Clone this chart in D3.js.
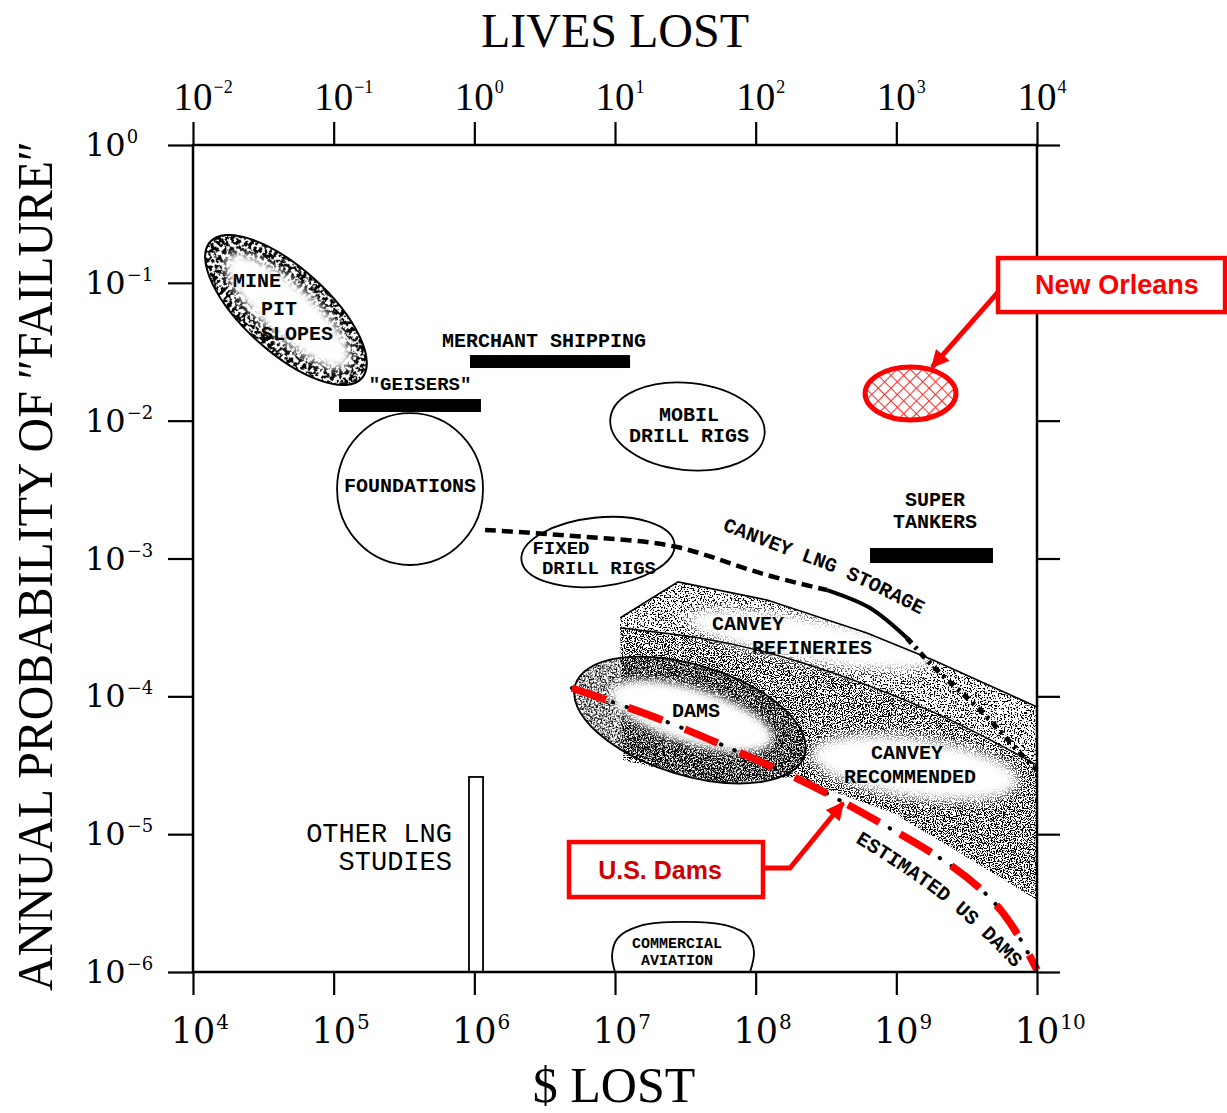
<!DOCTYPE html>
<html>
<head>
<meta charset="utf-8">
<title>Annual probability of failure versus consequences</title>
<script src="https://cdn.jsdelivr.net/npm/d3@7/dist/d3.min.js"></script>
<style>
  html, body { margin: 0; padding: 0; background: #fff; }
  svg { display: block; }
  .serif { font-family: "Liberation Serif", "Times New Roman", serif; }
  .dserif { font-family: "DejaVu Serif", "Liberation Serif", serif; }
  .type { font-family: "Liberation Mono", "Courier New", monospace; }
  .sans { font-family: "Liberation Sans", Arial, sans-serif; }
</style>
</head>
<body>
<svg id="chart" width="1227" height="1113"></svg>
<script>
// ---------------------------------------------------------------
// Axis decades
// ---------------------------------------------------------------
const dollarTicks = [1e4, 1e5, 1e6, 1e7, 1e8, 1e9, 1e10];
const dollarExps  = ["4", "5", "6", "7", "8", "9", "10"];
const livesTicks  = [1e-2, 1e-1, 1e0, 1e1, 1e2, 1e3, 1e4];
const livesExps   = ["\u22122", "\u22121", "0", "1", "2", "3", "4"];
const probTicks   = [1e0, 1e-1, 1e-2, 1e-3, 1e-4, 1e-5, 1e-6];
const probExps    = ["0", "\u22121", "\u22122", "\u22123", "\u22124", "\u22125", "\u22126"];

// ---------------------------------------------------------------
// Everything below is in [log10($ lost), log10(annual probability)]
// ---------------------------------------------------------------

// Solid horizontal bars: $ span and probability band
const barSpans = [
  { name: "geisers",  x: [5.038, 6.047], p: [-1.937, -1.843] },
  { name: "merchant", x: [5.969, 7.107], p: [-1.618, -1.524] },
  { name: "tankers",  x: [8.813, 9.687], p: [-3.033, -2.924] }
];

// Open column for the other LNG studies
const otherLngStudies = { x: [5.962, 6.062], p: [-6.0, -4.585] };

// Elliptical regions: centre, semi-axes in decades, tilt in degrees
const minePit     = { c: [4.661, -1.197], r: [0.725, 0.305], tilt: 42 };
const foundations = { c: [5.543, -2.496], r: [0.519, 0.551], tilt: 0 };
const mobilRigs   = { c: [7.515, -2.042], r: [0.551, 0.316], tilt: 6 };
const fixedRigs   = { c: [6.879, -2.953], r: [0.547, 0.250], tilt: -6 };
const damsRegion  = { c: [7.533, -4.172], r: [0.853, 0.400], tilt: 17 };
const newOrleans  = { c: [9.101, -1.803], r: [0.323, 0.192], tilt: 0 };

// Light (unshaded) cores inside the stippled regions
const clearCores = [
  { c: [4.675, -1.205], r: [0.575, 0.190], tilt: 42, blur: 4 },
  { c: [7.547, -4.143], r: [0.600, 0.200], tilt: 17, blur: 4 },
  { c: [8.386, -3.591], r: [0.890, 0.160], tilt: 10, blur: 6 },
  { c: [9.133, -4.519], r: [0.750, 0.220], tilt: 8,  blur: 6 }
];

// Canvey refineries band
const refineriesBand = [
  [7.036, -3.432], [7.448, -3.170], [8.081, -3.301], [8.791, -3.541],
  [9.261, -3.736], [10.0, -4.077], [10.0, -4.498], [9.261, -4.114],
  [8.315, -3.751], [7.604, -3.577], [7.036, -3.504]
];

// Canvey recommended band
const recommendedBand = [
  [7.036, -3.504], [7.604, -3.577], [8.315, -3.751], [9.261, -4.114],
  [10.0, -4.498], [10.0, -5.478], [9.453, -5.137], [8.976, -4.846],
  [8.265, -4.585], [7.746, -4.629], [7.057, -4.462]
];

// Commercial aviation outline
const aviationDome = [
  [7.000, -6.0], [6.979, -5.877], [7.021, -5.753], [7.178, -5.666],
  [7.483, -5.637], [7.803, -5.666], [7.945, -5.739], [7.988, -5.855], [7.960, -6.0]
];

// Canvey LNG storage curve, split where the line style changes
const lngDashed = [
  [6.076, -2.793], [6.417, -2.815], [6.893, -2.851], [7.441, -2.917],
  [7.960, -3.083], [8.507, -3.229]
];
const lngSolid = [[8.507, -3.229], [8.813, -3.359], [9.076, -3.577]];
const lngDotted = [
  [9.076, -3.577], [9.310, -3.831], [9.595, -4.099], [9.858, -4.389], [10.0, -4.534]
];

// Estimated US dams curve
const usDams = [
  [6.694, -3.940], [6.943, -4.027], [7.370, -4.186], [7.796, -4.368],
  [8.244, -4.571], [8.621, -4.767], [8.976, -4.970], [9.403, -5.238],
  [9.758, -5.572], [10.0, -5.986]
];

// Baselines for the labels that follow the curves
const lngLabelPath  = [[7.761, -2.793], [8.315, -3.011], [8.671, -3.156], [9.275, -3.461]];
const damsLabelPath = [[8.706, -5.057], [9.346, -5.499], [9.864, -5.999]];
const lngLabelWords  = ["CANVEY", "LNG", "STORAGE"];
const damsLabelWords = ["ESTIMATED", "US", "DAMS"];

// Region labels: text, anchor point, alignment, type style
const regionLabels = [
  { t: "MINE",       at: [4.455, -1.030], a: "middle", s: "b20" },
  { t: "PIT",        at: [4.611, -1.233], a: "middle", s: "b20" },
  { t: "SLOPES",     at: [4.739, -1.415], a: "middle", s: "b20" },
  { t: "\"GEISERS\"", at: [5.614, -1.778], a: "middle", s: "b19" },
  { t: "MERCHANT SHIPPING", at: [6.495, -1.466], a: "middle", s: "b20" },
  { t: "FOUNDATIONS", at: [5.543, -2.518], a: "middle", s: "b20" },
  { t: "MOBIL",      at: [7.526, -2.002], a: "middle", s: "b20" },
  { t: "DRILL RIGS", at: [7.526, -2.155], a: "middle", s: "b20" },
  { t: "FIXED",      at: [6.616, -2.965], a: "middle", s: "b19" },
  { t: "DRILL RIGS", at: [6.886, -3.112], a: "middle", s: "b19" },
  { t: "SUPER",      at: [9.275, -2.620], a: "middle", s: "b20" },
  { t: "TANKERS",    at: [9.275, -2.778], a: "middle", s: "b20" },
  { t: "CANVEY",     at: [7.945, -3.522], a: "middle", s: "b20" },
  { t: "REFINERIES", at: [8.400, -3.692], a: "middle", s: "b20" },
  { t: "DAMS",       at: [7.576, -4.150], a: "middle", s: "b20" },
  { t: "CANVEY",     at: [9.076, -4.455], a: "middle", s: "b20" },
  { t: "RECOMMENDED", at: [9.097, -4.626], a: "middle", s: "b20" },
  { t: "OTHER LNG",  at: [5.841, -5.057], a: "end",    s: "r27" },
  { t: "STUDIES",    at: [5.841, -5.260], a: "end",    s: "r27" },
  { t: "COMMERCIAL", at: [7.441, -5.826], a: "middle", s: "b15" },
  { t: "AVIATION",   at: [7.441, -5.949], a: "middle", s: "b15" }
];
const typeStyles = {
  b20: { size: 20, weight: "bold" },
  b19: { size: 19, weight: "bold" },
  r27: { size: 27, weight: "normal" },
  b15: { size: 15, weight: "bold" }
};

// Highlighted call-outs (text centre given on the $ axis)
const callouts = [
  { text: "New Orleans", box: [[9.723, -0.820], [11.337, -1.212]], textAt: 10.568,
    leader: [[9.723, -1.067], [9.254, -1.611]], color: "#ff0000", textColor: "#ff0000", size: 27 },
  { text: "U.S. Dams", box: [[6.673, -5.057], [8.052, -5.456]], textAt: 7.320,
    leader: [[8.052, -5.246], [8.244, -5.246], [8.621, -4.774]], color: "#ff0000", textColor: "#d00000", size: 25 }
];

// ---------------------------------------------------------------
// Scales
// ---------------------------------------------------------------
const svg = d3.select("#chart");
const x = d3.scaleLog().domain([1e4, 1e10]).range([193, 1037]);
const xLives = d3.scaleLog().domain([1e-2, 1e4]).range([193, 1037]);
const y = d3.scaleLog().domain([1e-6, 1]).range([972, 145]);

const X = d => x(Math.pow(10, d[0]));
const Y = d => y(Math.pow(10, d[1]));
const line = d3.line().x(X).y(Y);
const smooth = d3.line().x(X).y(Y).curve(d3.curveNatural);

function ellipseGeom(e) {
  const cx = X(e.c), cy = Y(e.c);
  const rx = x(Math.pow(10, e.c[0] + e.r[0])) - cx;
  const ry = y(Math.pow(10, e.c[1] - e.r[1])) - cy;
  return { cx, cy, rx, ry, tilt: e.tilt };
}
function addEllipse(g, e) {
  const q = ellipseGeom(e);
  return g.append("ellipse")
    .attr("cx", q.cx).attr("cy", q.cy).attr("rx", q.rx).attr("ry", q.ry)
    .attr("transform", `rotate(${q.tilt},${q.cx},${q.cy})`);
}
function addBand(g, b) {
  return g.append("rect")
    .attr("x", X([b.x[0], 0])).attr("width", X([b.x[1], 0]) - X([b.x[0], 0]))
    .attr("y", Y([0, b.p[1]])).attr("height", Y([0, b.p[0]]) - Y([0, b.p[1]]));
}

// ---------------------------------------------------------------
// Textures
// ---------------------------------------------------------------
const defs = svg.append("defs");
function stipple(id, freq, octaves, threshold, seed) {
  const f = defs.append("filter").attr("id", id)
    .attr("x", "-5%").attr("y", "-5%").attr("width", "110%").attr("height", "110%")
    .attr("color-interpolation-filters", "sRGB");
  f.append("feTurbulence").attr("type", "fractalNoise")
    .attr("baseFrequency", freq).attr("numOctaves", octaves).attr("seed", seed).attr("result", "n");
  f.append("feColorMatrix").attr("in", "n").attr("type", "matrix")
    .attr("values", `0 0 0 0 0  0 0 0 0 0  0 0 0 0 0  30 0 0 0 ${-30 * threshold}`)
    .attr("result", "dots");
  f.append("feComposite").attr("in", "dots").attr("in2", "SourceGraphic").attr("operator", "in");
}
stipple("stipCoarse", 0.28, 2, 0.48, 4);
stipple("stipDense", 0.75, 1, 0.515, 9);
stipple("stipMedium", 0.85, 1, 0.505, 2);
stipple("stipLight", 0.70, 1, 0.55, 6);

function softFilter(id, sd) {
  defs.append("filter").attr("id", id)
    .attr("x", "-40%").attr("y", "-40%").attr("width", "180%").attr("height", "180%")
    .append("feGaussianBlur").attr("stdDeviation", sd);
}
softFilter("soft4", 4);
softFilter("soft6", 6);

const hatch = defs.append("pattern").attr("id", "hatch")
  .attr("patternUnits", "userSpaceOnUse").attr("width", 9).attr("height", 9)
  .attr("patternTransform", "rotate(45)");
hatch.append("rect").attr("width", 9).attr("height", 9).attr("fill", "#fff");
hatch.append("path").attr("d", "M0 4.5H9M4.5 0V9").attr("stroke", "#ff3030").attr("stroke-width", 1.1);

defs.append("marker").attr("id", "redHead")
  .attr("viewBox", "0 0 10 10").attr("refX", 9).attr("refY", 5)
  .attr("markerUnits", "userSpaceOnUse").attr("markerWidth", 20).attr("markerHeight", 18)
  .attr("orient", "auto")
  .append("path").attr("d", "M0 0L10 5L0 10Z").attr("fill", "#ff0000");

// ---------------------------------------------------------------
// Shaded regions
// ---------------------------------------------------------------
const shade = svg.append("g");
shade.append("path").attr("d", line(recommendedBand) + "Z").attr("fill", "#000")
  .attr("filter", "url(#stipMedium)");
shade.append("path").attr("d", line(refineriesBand) + "Z").attr("fill", "#000")
  .attr("filter", "url(#stipLight)");
addEllipse(shade, damsRegion).attr("fill", "#000").attr("filter", "url(#stipDense)");
addEllipse(shade, minePit).attr("fill", "#000").attr("filter", "url(#stipCoarse)");

clearCores.forEach(k => {
  addEllipse(shade, k).attr("fill", "#fff").attr("filter", `url(#soft${k.blur})`);
});

// outlines of the shaded regions
shade.append("path").attr("d", line(refineriesBand.slice(0, 6)))
  .attr("fill", "none").attr("stroke", "#000").attr("stroke-width", 1.6);
shade.append("path").attr("d", smooth(refineriesBand.slice(6)))
  .attr("fill", "none").attr("stroke", "#000").attr("stroke-width", 1.4);
addEllipse(shade, damsRegion).attr("fill", "none").attr("stroke", "#000").attr("stroke-width", 1.8);
addEllipse(shade, minePit).attr("fill", "none").attr("stroke", "#000").attr("stroke-width", 2);

// ---------------------------------------------------------------
// Open regions and bars
// ---------------------------------------------------------------
const marks = svg.append("g");
[foundations, mobilRigs, fixedRigs].forEach(e => {
  addEllipse(marks, e).attr("fill", "none").attr("stroke", "#000").attr("stroke-width", 1.8);
});
barSpans.forEach(b => addBand(marks, b).attr("fill", "#000"));
addBand(marks, otherLngStudies).attr("fill", "#fff").attr("stroke", "#000").attr("stroke-width", 1.8);
marks.append("path")
  .attr("d", d3.line().x(X).y(Y).curve(d3.curveCatmullRom)(aviationDome) + "Z")
  .attr("fill", "none").attr("stroke", "#000").attr("stroke-width", 1.8);

// ---------------------------------------------------------------
// Curves
// ---------------------------------------------------------------
const curves = svg.append("g").attr("fill", "none");
curves.append("path").attr("d", smooth(lngDashed))
  .attr("stroke", "#000").attr("stroke-width", 4.5).attr("stroke-dasharray", "11 6");
curves.append("path").attr("d", smooth(lngSolid))
  .attr("stroke", "#000").attr("stroke-width", 4);
curves.append("path").attr("d", smooth(lngDotted))
  .attr("stroke", "#000").attr("stroke-width", 5).attr("stroke-dasharray", "7 5 3 5");

curves.append("path").attr("d", smooth(usDams))
  .attr("stroke", "#000").attr("stroke-width", 4).attr("stroke-linecap", "round")
  .attr("stroke-dasharray", "0.5 14");
curves.append("path").attr("d", smooth(usDams))
  .attr("stroke", "#ff0000").attr("stroke-width", 7.5).attr("stroke-dasharray", "36 24");

// New Orleans region
addEllipse(svg, newOrleans).attr("fill", "url(#hatch)").attr("stroke", "#ff0000").attr("stroke-width", 5);

// ---------------------------------------------------------------
// Labels
// ---------------------------------------------------------------
const labels = svg.append("g").attr("class", "type").attr("fill", "#000");
regionLabels.forEach(l => {
  const st = typeStyles[l.s];
  labels.append("text")
    .attr("x", X(l.at)).attr("y", Y(l.at))
    .attr("text-anchor", l.a)
    .attr("font-size", st.size).attr("font-weight", st.weight)
    .text(l.t);
});

// words laid along a curve, one text per word, advancing by the mono character width
function curvedWords(id, pts, words, size) {
  defs.append("path").attr("id", id).attr("d", smooth(pts));
  const advance = size * 0.6;
  let offset = 0;
  words.forEach(w => {
    labels.append("text").attr("font-size", size).attr("font-weight", "bold")
      .append("textPath").attr("href", `#${id}`).attr("startOffset", offset).text(w);
    offset += (w.length + 1) * advance;
  });
}
curvedWords("lngLabelPath", lngLabelPath, lngLabelWords, 20);
curvedWords("damsLabelPath", damsLabelPath, damsLabelWords, 20);

// ---------------------------------------------------------------
// Axes and frame
// ---------------------------------------------------------------
const axes = svg.append("g");
axes.append("g").attr("transform", `translate(0,${y(1e-6)})`)
  .call(d3.axisBottom(x).tickValues(dollarTicks).tickSize(23).tickSizeOuter(0).tickFormat(""));
axes.append("g").attr("transform", `translate(0,${y(1)})`)
  .call(d3.axisTop(xLives).tickValues(livesTicks).tickSize(23).tickSizeOuter(0).tickFormat(""));
axes.append("g").attr("transform", `translate(${x(1e4)},0)`)
  .call(d3.axisLeft(y).tickValues(probTicks).tickSize(25).tickSizeOuter(0).tickFormat(""));
axes.append("g").attr("transform", `translate(${x(1e10)},0)`)
  .call(d3.axisRight(y).tickValues(probTicks).tickSize(23).tickSizeOuter(0).tickFormat(""));
axes.selectAll(".domain").remove();
axes.selectAll(".tick line").attr("stroke", "#000").attr("stroke-width", 2.2);
axes.append("rect")
  .attr("x", x(1e4)).attr("y", y(1)).attr("width", x(1e10) - x(1e4)).attr("height", y(1e-6) - y(1))
  .attr("fill", "none").attr("stroke", "#000").attr("stroke-width", 2.5);

// powers of ten
function power(g, cls, cx, base, exp, size, supSize, rise, align) {
  const main = g.append("text").attr("class", cls).attr("font-size", size)
    .attr("y", base).text("10");
  const w = main.node().getComputedTextLength();
  const left = align === "middle" ? cx - w / 2 : cx;
  main.attr("x", left);
  g.append("text").attr("class", cls).attr("font-size", supSize)
    .attr("x", left + w + 1).attr("y", base - rise).text(exp);
}
const tickText = svg.append("g").attr("fill", "#000");
livesTicks.forEach((v, i) => power(tickText, "serif", xLives(v), 110, livesExps[i], 39, 18, 17, "middle"));
dollarTicks.forEach((v, i) => power(tickText, "dserif", x(v), 1043, dollarExps[i], 35, 20, 14, "middle"));
probTicks.forEach((v, i) => power(tickText, "dserif", 85, y(v) + 11, probExps[i], 32, 18, 13, "start"));

// titles
svg.append("text").attr("class", "serif").attr("x", 615).attr("y", 47)
  .attr("text-anchor", "middle").attr("font-size", 48).text("LIVES LOST");
svg.append("text").attr("class", "serif").attr("x", 614).attr("y", 1102)
  .attr("text-anchor", "middle").attr("font-size", 50).text("$ LOST");
svg.append("text").attr("class", "serif")
  .attr("transform", "translate(52,566) rotate(-90)")
  .attr("text-anchor", "middle").attr("font-size", 50)
  .attr("textLength", 850).attr("lengthAdjust", "spacingAndGlyphs")
  .text("ANNUAL PROBABILITY OF \u2033FAILURE\u2033");

// ---------------------------------------------------------------
// Call-outs (drawn last so their boxes sit over the frame)
// ---------------------------------------------------------------
callouts.forEach(c => {
  const g = svg.append("g");
  const x0 = X(c.box[0]), y0 = Y(c.box[0]), x1 = X(c.box[1]), y1 = Y(c.box[1]);
  g.append("rect").attr("x", x0).attr("y", y0).attr("width", x1 - x0).attr("height", y1 - y0)
    .attr("fill", "#fff").attr("stroke", c.color).attr("stroke-width", 4.5);
  g.append("text").attr("class", "sans")
    .attr("x", X([c.textAt, 0])).attr("y", (y0 + y1) / 2 + 9)
    .attr("text-anchor", "middle").attr("font-size", c.size).attr("font-weight", "bold")
    .attr("fill", c.textColor).text(c.text);
  g.append("path").attr("d", line(c.leader)).attr("fill", "none")
    .attr("stroke", c.color).attr("stroke-width", 5).attr("stroke-linejoin", "miter")
    .attr("marker-end", "url(#redHead)");
});
</script>
</body>
</html>
